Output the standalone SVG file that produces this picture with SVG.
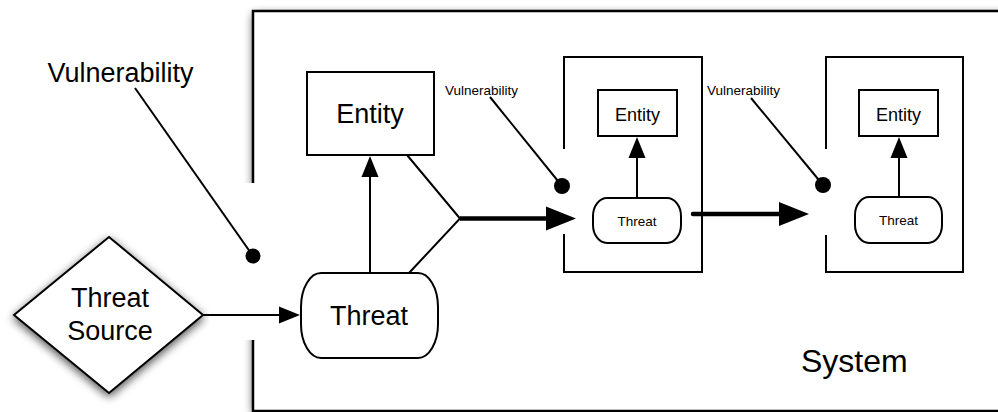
<svg xmlns="http://www.w3.org/2000/svg" width="998" height="412" viewBox="0 0 998 412">
  <defs>
    <filter id="shadow" x="-20%" y="-20%" width="140%" height="140%">
      <feGaussianBlur in="SourceAlpha" stdDeviation="5"/>
      <feOffset dx="0" dy="3" result="b"/>
      <feComponentTransfer><feFuncA type="linear" slope="0.7"/></feComponentTransfer>
      <feMerge><feMergeNode/><feMergeNode in="SourceGraphic"/></feMerge>
    </filter>
    <!-- arrowheads start at the line end and point forward -->
    <marker id="arrow" markerUnits="userSpaceOnUse" markerWidth="21" markerHeight="17" refX="0" refY="8.5" orient="auto" overflow="visible">
      <path d="M0,0 L21,8.5 L0,17 Z" fill="#000"/>
    </marker>
    <marker id="arrowBig" markerUnits="userSpaceOnUse" markerWidth="30" markerHeight="24" refX="0" refY="12" orient="auto" overflow="visible">
      <path d="M0,0 L30,12 L0,24 Z" fill="#000"/>
    </marker>
  </defs>
  <style>
    text { font-family: "Liberation Sans", Arial, Helvetica, sans-serif; fill: #000; }
    .box { fill: #fff; stroke: #000; stroke-width: 2; }
    .wall { fill: none; stroke: #000; stroke-width: 2; }
    .line { fill: none; stroke: #000; stroke-width: 2; }
    .thick { fill: none; stroke: #000; stroke-width: 4.5; }
    .lg { font-size: 27px; }
    .sm { font-size: 13.5px; }
    .md { font-size: 18px; }
    .tc { text-anchor: middle; }
  </style>

  <rect width="998" height="412" fill="#fff"/>

  <!-- System boundary with its shadow -->
  <g id="system">
    <rect x="253" y="11" width="800" height="400" fill="#fff" filter="url(#shadow)"/>
  </g>

  <!-- Threat source diamond -->
  <g id="threat-source">
    <polygon points="109,237 203,315 109,393 14,315" class="box" filter="url(#shadow)"/>
    <text x="110" y="306.5" class="lg tc">Threat</text>
    <text x="110" y="340" class="lg tc">Source</text>
  </g>

  <!-- opening in the system wall -->
  <rect x="209" y="183" width="44" height="157" fill="#fff"/>
  <g id="system-walls">
    <path d="M253,183 V11 H1005 M253,340 V411 H1005" fill="none" stroke="#000" stroke-width="2.5"/>
    <text x="801" y="372" font-size="32">System</text>
  </g>

  <!-- Outer entity and threat -->
  <g id="entity-main">
    <rect x="307" y="72" width="127" height="83" class="box"/>
    <text x="370" y="123" class="lg tc">Entity</text>
  </g>
  <g id="threat-main">
    <rect x="301" y="273" width="137" height="85" rx="20" ry="34" class="box"/>
    <text x="369" y="325" class="lg tc">Threat</text>
  </g>

  <!-- First sub-system -->
  <g id="subsystem-1">
    <path d="M564,149 V57 H702 V272 H564 V234" class="wall"/>
  </g>
  <g id="entity-1">
    <rect x="598" y="90" width="79" height="46" class="box"/>
    <text x="637.5" y="120.5" class="md tc">Entity</text>
  </g>
  <g id="threat-1">
    <rect x="593" y="198" width="88" height="45" rx="14" ry="18" class="box"/>
    <text x="637" y="225.5" class="sm tc">Threat</text>
  </g>

  <!-- Second sub-system -->
  <g id="subsystem-2">
    <path d="M826,149 V57 H963 V272 H826 V235" class="wall"/>
  </g>
  <g id="entity-2">
    <rect x="859" y="90" width="79" height="46" class="box"/>
    <text x="898.5" y="120.5" class="md tc">Entity</text>
  </g>
  <g id="threat-2">
    <rect x="855" y="197" width="87" height="46" rx="14" ry="18" class="box"/>
    <text x="898.5" y="225" class="sm tc">Threat</text>
  </g>

  <!-- Vulnerability labels -->
  <g id="vulnerability-0">
    <text x="47.5" y="82" class="lg">Vulnerability</text>
    <circle cx="253" cy="256" r="7.5" fill="#000"/>
  </g>
  <g id="vulnerability-1">
    <text x="445" y="95" class="sm">Vulnerability</text>
    <circle cx="562" cy="186" r="8" fill="#000"/>
  </g>
  <g id="vulnerability-2">
    <text x="707" y="95" class="sm">Vulnerability</text>
    <circle cx="823" cy="185" r="8" fill="#000"/>
  </g>

  <!-- Connectors -->
  <g id="connectors">
    <line x1="135" y1="88" x2="253" y2="256" class="line"/>
    <line x1="490" y1="97" x2="562" y2="186" class="line"/>
    <line x1="751" y1="98" x2="823" y2="185" class="line"/>

    <line x1="203" y1="315" x2="279" y2="315" class="line" marker-end="url(#arrow)"/>
    <line x1="370" y1="273" x2="370" y2="177" class="line" marker-end="url(#arrow)"/>
    <line x1="637" y1="198" x2="637" y2="158" class="line" marker-end="url(#arrow)"/>
    <line x1="899" y1="197" x2="899" y2="158" class="line" marker-end="url(#arrow)"/>

    <polyline points="407,155 460,218.5 409,273" class="line"/>
    <line x1="460" y1="218.5" x2="546" y2="218.5" class="thick" marker-end="url(#arrowBig)"/>
    <line x1="693" y1="214" x2="779" y2="214" class="thick" stroke-linecap="round" marker-end="url(#arrowBig)"/>
  </g>
</svg>
